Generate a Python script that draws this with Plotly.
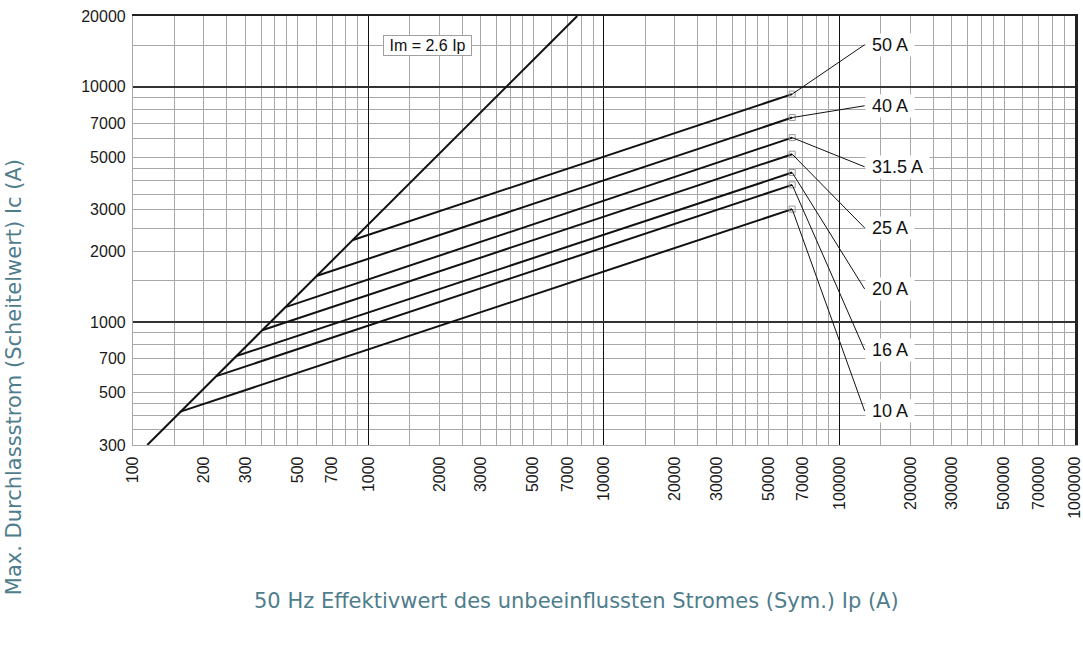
import numpy as np
import plotly.graph_objects as go

# ---------------- data ----------------
ratings = ["10 A", "16 A", "20 A", "25 A", "31.5 A", "40 A", "50 A"]
knee_ip = [158, 226, 275, 356, 448, 601, 859]          # start of each rating line (on Im line)
knee_ic = [415, 589, 717, 925, 1160, 1568, 2233]
end_ip = [63000, 63000, 63000, 63000, 63000, 63000, 63000]
end_ic = [3020, 3830, 4320, 5170, 6080, 7400, 9310]

im_ip = [115, 7700]     # Im = 2.6 Ip line
im_ic = [300, 20000]

grid_steps = [1, 1.5, 2, 2.5, 3, 3.5, 4, 4.5, 5, 6, 7, 8, 9]
x_decades = [100, 1000, 10000, 100000]
y_decades = [100, 1000, 10000]
x_label_vals = [100, 200, 300, 500, 700, 1000, 2000, 3000, 5000, 7000, 10000,
                20000, 30000, 50000, 70000, 100000, 200000, 300000, 500000,
                700000, 1000000]
y_label_vals = [300, 500, 700, 1000, 2000, 3000, 5000, 7000, 10000, 20000]
x_major = [1000, 10000, 100000, 1000000]
y_major = [1000, 10000, 20000]

x_min, x_max = 100, 1000000
y_min, y_max = 300, 20000

# ---------------- grid values ----------------
x_grid = [d * s for d in x_decades for s in grid_steps] + [1000000]
y_grid = [d * s for d in y_decades for s in grid_steps if y_min <= d * s <= y_max]
y_grid += [20000]
x_text = [str(int(v)) if v in x_label_vals else "" for v in x_grid]
y_text = [str(int(v)) if v in y_label_vals else "" for v in y_grid]

TICK_FONT = dict(family="Liberation Sans, Arial, sans-serif", size=16, color="#1a1a1a")
GRID = "#a8a8a8"
TITLE_COLOR = "#4f7d8c"

fig = go.Figure()

# Im = 2.6 Ip line
fig.add_trace(go.Scatter(x=im_ip, y=im_ic, mode="lines",
                         line=dict(color="#111111", width=2), showlegend=False,
                         hoverinfo="skip"))

# rating lines
for i, r in enumerate(ratings):
    fig.add_trace(go.Scatter(x=[knee_ip[i], end_ip[i]], y=[knee_ic[i], end_ic[i]],
                             mode="lines", line=dict(color="#111111", width=2),
                             name=r, showlegend=False))
# end markers
fig.add_trace(go.Scatter(x=end_ip, y=end_ic, mode="markers",
                         marker=dict(symbol="square-open", size=6, color="#9a9a9a",
                                     line=dict(width=1)),
                         showlegend=False, hoverinfo="skip"))

# dummy trace to activate overlay axes (major dark lines)
fig.add_trace(go.Scatter(x=[], y=[], xaxis="x2", yaxis="y2", showlegend=False))

# label annotations with leader lines
label_x_log = 5.107
label_y_top = 4.179
label_step = 0.2596
n = len(ratings)
for i, r in enumerate(ratings):
    k = n - 1 - i  # 50 A at the top
    fig.add_annotation(
        x=np.log10(end_ip[i]), y=np.log10(end_ic[i]),
        ax=label_x_log, ay=label_y_top - k * label_step,
        axref="x", ayref="y", xref="x", yref="y",
        text="\u00a0" + r + "\u00a0",
        xanchor="left", showarrow=True, arrowhead=0, arrowwidth=1,
        arrowcolor="#111111", bgcolor="white", borderpad=1,
        font=dict(family="Liberation Sans, Arial, sans-serif", size=18, color="#111111"),
    )

# Im label box
fig.add_annotation(x=3.251, y=4.176, xref="x", yref="y", showarrow=False,
                   text="\u00a0Im = 2.6 Ip\u00a0", bgcolor="white",
                   bordercolor="#a0a0a0", borderwidth=1, borderpad=1,
                   font=dict(family="Liberation Sans, Arial, sans-serif", size=16,
                             color="#111111"))

# axis titles
fig.add_annotation(x=0.4713, y=-0.3636, xref="paper", yref="paper", showarrow=False,
                   xanchor="center", yanchor="middle",
                   text="50 Hz Effektivwert des unbeeinflussten Stromes (Sym.) Ip (A)",
                   font=dict(family="DejaVu Sans, sans-serif", size=21, color=TITLE_COLOR))
fig.add_annotation(x=-0.1263, y=0.158, xref="paper", yref="paper", showarrow=False,
                   xanchor="center", yanchor="middle", textangle=-90,
                   text="Max. Durchlassstrom (Scheitelwert) Ic (A)",
                   font=dict(family="DejaVu Sans, sans-serif", size=21, color=TITLE_COLOR))

xr = [np.log10(x_min), np.log10(x_max) + 0.0004]
yr = [np.log10(y_min), np.log10(y_max)]

fig.update_layout(
    width=1083, height=654,
    margin=dict(l=133, r=8, t=16, b=209),
    paper_bgcolor="white", plot_bgcolor="white",
    showlegend=False,
    xaxis=dict(type="log", range=xr, tickmode="array", tickvals=x_grid, ticktext=x_text,
               tickangle=-90, tickfont=TICK_FONT, showgrid=True, gridcolor=GRID,
               gridwidth=1.2, showline=True, linecolor=GRID, linewidth=1.2,
               ticks="", zeroline=False, ticklabelstandoff=4, automargin=False,
               ticklabeloverflow="allow"),
    yaxis=dict(type="log", range=yr, tickmode="array", tickvals=y_grid, ticktext=y_text,
               tickfont=TICK_FONT, showgrid=True, gridcolor=GRID, gridwidth=1.2,
               showline=True, linecolor=GRID, linewidth=1.2, ticks="", zeroline=False,
               ticklabelstandoff=3, automargin=False, ticklabeloverflow="allow"),
    xaxis2=dict(type="log", range=xr, overlaying="x", side="top", tickmode="array",
                tickvals=x_major, showticklabels=False, showgrid=True,
                gridcolor="#111111", gridwidth=1.3, showline=True, linecolor="#222222",
                linewidth=1.5, ticks="", zeroline=False, anchor="y2", automargin=False),
    yaxis2=dict(type="log", range=yr, overlaying="y", side="right", tickmode="array",
                tickvals=y_major, showticklabels=False, showgrid=True,
                gridcolor="#333333", gridwidth=2, showline=True, linecolor="#222222",
                linewidth=2.5, ticks="", zeroline=False, anchor="x2", automargin=False),
)

fig.write_html("out.html", config={"displayModeBar": False},
               post_script="document.body.style.margin='0';document.body.style.overflow='hidden';")
